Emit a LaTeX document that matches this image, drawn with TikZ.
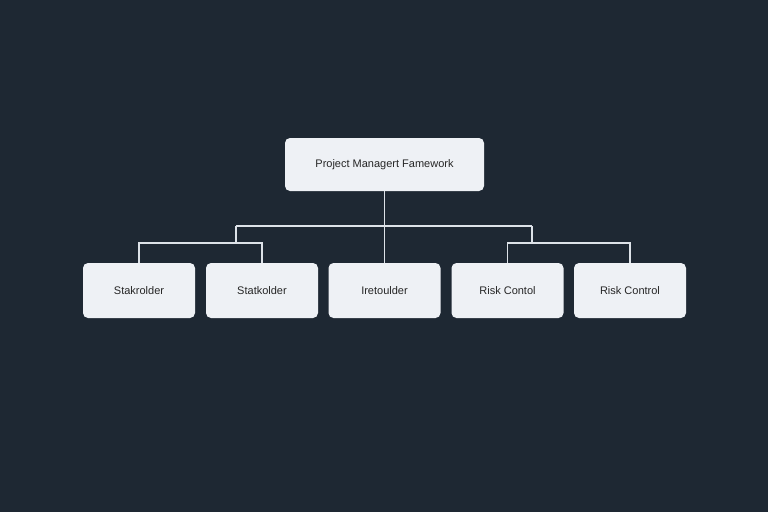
\documentclass[tikz,border=0pt]{standalone}
\usepackage{fontspec}
\setmainfont{Liberation Sans}
\begin{document}
\begin{tikzpicture}[x=1pt,y=-1pt,
  box/.style={draw=none,fill=boxc,rounded corners=5pt,font=\fontsize{11}{13}\selectfont,text=black!85},
  con/.style={draw=linec,line width=1.2pt}]
\definecolor{bg}{HTML}{1E2833}
\definecolor{boxc}{HTML}{EEF1F5}
\definecolor{linec}{HTML}{DDE2E8}
\fill[bg] (0,0) rectangle (768,512);
\useasboundingbox (0,0) rectangle (768,512);
\node[box,minimum width=199pt,minimum height=53pt] (root) at (384.5,164.5) {Project Managert Famework};
\foreach \n/\x/\t in {a/139/Stakrolder,b/262/Statkolder,c/384.5/Iretoulder,d/507.5/Risk Contol,e/630/Risk Control}
  \node[box,minimum width=112pt,minimum height=55pt] (\n) at (\x,290.5) {\t};
\coordinate (L) at (236,226); \coordinate (R) at (532,226);
\coordinate (L2) at (236,243); \coordinate (R2) at (532,243);
\draw[con] (root.south) -- (c.north);
\draw[con] (L) -- (R);
\draw[con] (L) -- (L2);
\draw[con] (R) -- (R2);
\draw[con] (a.north) |- (L2) -| (b.north);
\draw[con] (d.north) |- (R2) -| (e.north);
\end{tikzpicture}
\end{document}
